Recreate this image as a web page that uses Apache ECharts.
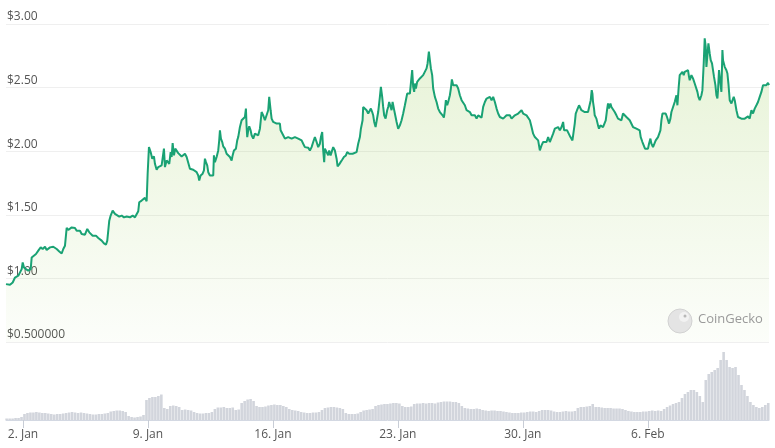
<!DOCTYPE html>
<html>
<head>
<meta charset="utf-8">
<script src="https://cdn.jsdelivr.net/npm/echarts@6/dist/echarts.min.js"></script>
<style>
  html, body { margin: 0; padding: 0; background: #ffffff; }
  #chart { width: 775px; height: 448px; }
</style>
</head>
<body>
<div id="chart"></div>
<script>
// Hours since 1 Jan 00:00 and price in USD
const pricePoints = [
[1.15,0.955],[6.53,0.950],[10.16,0.968],[13.25,1.007],[17.68,1.021],[19.97,1.028],[22.25,1.073],[23.60,1.125],[25.34,1.086],[28.03,1.073],[31.12,1.060],[34.35,1.073],[35.69,1.165],[37.84,1.152],[41.47,1.192],[44.56,1.218],[47.79,1.244],[50.48,1.231],[53.57,1.249],[55.85,1.223],[58.00,1.231],[60.29,1.244],[62.57,1.239],[64.72,1.249],[67.01,1.257],[69.29,1.231],[72.79,1.212],[76.01,1.196],[78.16,1.231],[80.45,1.257],[82.73,1.397],[84.88,1.381],[87.17,1.389],[89.45,1.401],[91.60,1.415],[93.88,1.397],[96.17,1.375],[98.32,1.362],[100.61,1.375],[102.89,1.349],[105.04,1.354],[107.33,1.344],[110.42,1.389],[113.11,1.362],[114.99,1.370],[117.68,1.336],[119.42,1.349],[122.11,1.336],[125.20,1.318],[127.49,1.310],[129.77,1.297],[132.86,1.275],[135.55,1.265],[137.30,1.297],[139.99,1.454],[141.87,1.494],[144.56,1.533],[147.65,1.507],[149.93,1.502],[153.43,1.486],[156.65,1.494],[159.74,1.480],[163.37,1.486],[167.81,1.480],[171.44,1.494],[174.53,1.480],[176.81,1.494],[178.96,1.528],[180.31,1.599],[183.53,1.612],[185.68,1.604],[187.97,1.633],[190.25,1.607],[191.60,1.823],[193.35,2.032],[195.63,1.993],[197.78,1.941],[200.07,1.959],[201.41,1.901],[203.70,1.854],[205.85,1.875],[208.13,1.888],[210.42,1.888],[212.57,1.901],[213.51,2.020],[214.86,1.875],[217.14,1.927],[219.29,1.933],[220.64,1.901],[222.52,1.993],[223.86,1.954],[225.21,2.064],[226.96,1.967],[228.70,2.020],[230.58,2.006],[232.73,1.985],[235.02,1.993],[237.30,1.959],[239.45,1.967],[241.74,1.980],[244.02,1.954],[246.17,1.959],
[248.45,1.862],[250.74,1.875],[252.89,1.854],[255.17,1.862],[257.46,1.835],[259.61,1.809],[260.95,1.770],[262.83,1.809],[265.52,1.823],[267.27,1.849],[268.61,1.941],[269.96,1.914],[271.70,1.888],[273.05,1.835],[275.33,1.809],[277.62,1.801],[279.77,1.809],[280.71,1.967],[282.05,1.914],[284.34,1.954],[286.49,2.006],[287.83,2.085],[288.78,2.164],[290.12,2.099],[291.87,2.072],[293.21,2.038],[295.50,2.020],[297.78,1.980],[299.93,1.967],[302.22,1.954],[304.50,1.927],[305.85,1.967],[307.60,2.006],[310.29,2.020],[312.03,2.085],[313.38,2.111],[315.66,2.190],[317.95,2.243],[320.10,2.230],[322.38,2.269],[323.73,2.335],[324.67,2.190],[325.48,2.111],[326.82,2.164],[328.17,2.196],[330.05,2.164],[331.39,2.125],[333.54,2.099],[335.82,2.138],[338.11,2.151],[340.26,2.125],[342.54,2.177],[344.83,2.308],[346.98,2.282],[349.26,2.243],[351.55,2.230],[353.70,2.322],[355.04,2.427],[356.93,2.322],[358.27,2.256],[360.42,2.230],[362.70,2.217],[364.99,2.217],[367.14,2.203],[369.42,2.217],[370.36,2.164],[371.71,2.164],[373.86,2.125],[376.14,2.099],[378.43,2.111],[380.58,2.111],[382.86,2.125],[385.15,2.099],[387.30,2.091],[389.58,2.111],[391.87,2.125],[394.02,2.099],[396.30,2.085],[398.59,2.085],[400.74,2.059],[403.02,2.032],[405.31,2.038],[407.46,2.028],[409.74,2.006],[412.03,2.032],[414.18,2.072],[416.46,2.111],[418.75,2.072],[420.90,2.032],[423.18,2.059],[424.53,2.111],[426.27,2.151],[427.62,2.006],[428.96,1.914],[429.91,2.020],[432.19,2.006],[434.34,1.967],[435.69,2.006],[437.57,1.967],[438.91,1.980],[441.06,2.032],[443.35,2.006],[445.63,1.941],[446.98,1.880],[449.13,1.896],[451.01,1.914],[453.16,1.933],[455.45,1.954],[458.14,1.967],[459.88,1.993],[462.57,1.980],[464.85,1.993],[467.14,1.980],[469.29,1.980],[472.52,1.993],[474.67,2.059],[476.95,2.111],[478.30,2.177],[480.58,2.243],[481.39,2.348],[483.67,2.335],[485.96,2.322],[488.11,2.296],[490.39,2.282],[491.74,2.335],[493.49,2.308],[494.83,2.282],[496.18,2.230],[498.06,2.190],[500.21,2.203],[501.55,2.308],[503.84,2.427],[505.18,2.506],[506.93,2.427],
[508.27,2.348],[509.62,2.282],[511.50,2.256],[513.65,2.322],[514.99,2.348],[516.34,2.387],[518.22,2.375],[519.56,2.322],[520.91,2.387],[522.66,2.335],[524.00,2.296],[526.29,2.230],[528.44,2.177],[530.72,2.203],[533.01,2.243],[535.16,2.296],[537.44,2.361],[538.79,2.401],[540.53,2.453],[541.88,2.466],[544.16,2.453],[545.51,2.466],[547.26,2.637],[548.60,2.506],[549.95,2.466],[550.89,2.532],[552.23,2.493],[553.98,2.545],[555.32,2.532],[557.61,2.572],[559.89,2.584],[562.04,2.598],[564.33,2.611],[566.61,2.651],[567.96,2.690],[569.71,2.782],[571.05,2.716],[572.40,2.651],[574.14,2.598],[575.49,2.493],[577.78,2.427],[580.06,2.387],[582.21,2.335],[584.50,2.308],[586.78,2.322],[588.13,2.282],[589.88,2.264],[591.22,2.322],[592.56,2.401],[594.31,2.361],[595.66,2.387],[597.94,2.440],[599.29,2.493],[600.63,2.564],[602.38,2.519],[604.66,2.506],[606.95,2.519],[609.10,2.493],[611.38,2.440],[613.67,2.401],[615.82,2.401],[618.10,2.361],[620.39,2.322],[622.54,2.322],[624.82,2.308],[627.11,2.282],[629.26,2.269],[631.54,2.282],[633.83,2.256],[635.98,2.282],[638.26,2.282],[640.55,2.264],[642.70,2.348],[644.98,2.387],[647.27,2.414],[649.42,2.401],[651.70,2.427],[653.99,2.401],[656.14,2.427],[658.42,2.387],[660.71,2.335],[662.86,2.296],[665.14,2.269],[667.43,2.282],[669.58,2.256],[671.86,2.243],[674.15,2.282],[676.30,2.274],[678.58,2.282],[680.87,2.256],[683.02,2.256],[685.30,2.282],[687.59,2.274],[689.74,2.296],[692.02,2.282],[694.31,2.322],[696.46,2.296],[698.74,2.308],[701.03,2.282],[703.18,2.269],[705.46,2.243],[707.75,2.190],[709.90,2.138],[712.18,2.111],[714.47,2.117],[716.62,2.085],[718.90,2.006],[721.19,2.046],[723.34,2.072],[725.62,2.085],[727.91,2.072],[730.06,2.111],[732.34,2.072],[734.63,2.085],[736.78,2.138],[739.06,2.177],[741.35,2.177],[743.50,2.190],[745.78,2.164],[748.07,2.190],[750.22,2.230],[751.56,2.164],[753.85,2.151],[755.59,2.164],[757.88,2.151],
[760.03,2.111],[762.72,2.085],[764.87,2.085],[765.81,2.217],[767.15,2.296],[768.90,2.322],[771.59,2.361],[773.47,2.348],[774.81,2.322],[776.96,2.308],[779.25,2.308],[781.53,2.300],[783.68,2.308],[785.97,2.322],[787.31,2.401],[788.66,2.480],[789.60,2.453],[790.40,2.387],[791.75,2.335],[792.69,2.282],[794.97,2.256],[797.12,2.203],[798.47,2.177],[800.35,2.203],[801.70,2.190],[803.85,2.190],[806.13,2.177],[807.48,2.243],[809.22,2.322],[810.57,2.375],[811.91,2.335],[813.80,2.375],[815.14,2.348],[817.29,2.335],[819.58,2.308],[821.86,2.282],[824.01,2.256],[826.30,2.269],[828.58,2.243],[830.73,2.296],[833.02,2.282],[835.30,2.269],[837.45,2.256],[839.74,2.243],[842.02,2.230],[844.17,2.190],[846.46,2.190],[848.74,2.177],[850.89,2.190],[853.18,2.164],[854.52,2.111],[856.81,2.072],[858.56,2.046],[860.30,2.020],[862.18,2.032],[864.33,2.020],[865.68,2.059],[867.56,2.099],[868.91,2.059],[871.06,2.032],[873.34,2.046],[874.69,2.085],[876.44,2.072],[877.78,2.111],[879.13,2.099],[881.01,2.164],[882.35,2.243],[883.70,2.296],[885.85,2.282],[888.13,2.296],[889.88,2.269],[891.22,2.243],[892.57,2.217],[894.45,2.256],[895.80,2.308],[897.95,2.322],[900.23,2.387],[902.52,2.440],[903.86,2.361],[905.61,2.506],[906.95,2.598],[909.24,2.584],[910.58,2.624],[912.33,2.598],[913.68,2.624],[915.96,2.616],[918.11,2.637],[919.46,2.584],[920.40,2.558],[922.68,2.598],[924.83,2.572],[927.12,2.532],[929.40,2.519],[930.75,2.466],[932.09,2.427],[933.84,2.401],[936.13,2.440],[937.47,2.480],[939.22,2.690],[940.56,2.887],[941.91,2.821],[942.85,2.663],[944.19,2.756],[945.54,2.848],[947.29,2.769],[948.63,2.716],[950.38,2.690],[951.72,2.637],[953.07,2.584],[954.95,2.519],[956.30,2.440],[957.64,2.414],[958.45,2.480],[959.79,2.637],[961.68,2.624],[963.02,2.466],[964.37,2.795],[965.17,2.716],[967.46,2.663],[968.80,2.677],[969.74,2.637],[971.09,2.611],[972.43,2.532],[974.18,2.401],[976.47,2.375],[977.81,2.361],[979.56,2.427],[980.90,2.401],[983.19,2.322],[985.34,2.269],[987.62,2.256],[989.91,2.256],[992.06,2.264],[994.34,2.256],[996.63,2.264],[998.78,2.274],[1001.06,2.256],[1003.35,2.322],[1005.50,2.296],[1007.78,2.335],[1010.07,2.361],[1012.22,2.387],[1014.50,2.427],[1016.79,2.466],[1018.94,2.519],[1021.22,2.532],[1023.51,2.519],[1025.66,2.537],[1027.00,2.519]
];

// Trading volume (millions USD), one bar every 4 hours starting at hour 2
const volumeStartHour = 2;
const volumeStepHours = 4;
const volumeValues = [
1.5,1.5,1.5,2,2,3,
6,7,7.5,7.5,8,7.5,7,7,
6.5,6,5.5,6,6,6.5,7,
7.5,8,7.5,7,7.5,7,6.5,
6,5.5,5.5,6,6,6.5,7,
8.5,9,9.5,9.5,9,8,
4,3,2.5,3,3.5,
5,20,
22,23,23,24,25.5,
12,11,
14,14.5,14,13,
10,10.5,10,9.5,
8,7,6.5,6.5,7,7,8,
11,12.5,12.5,13,12,12,12.5,
10,10.5,
17,19,20.5,21,19,
14,13,13,13.5,
14.5,15,15.5,15,15,14,13,
11,10,9.5,9,
8,7.5,7,7,7.5,7.5,8,
10,12,12.5,13,13,12.5,12,11,
7,6,6,6,6.5,
8,9.5,10,10.5,11,
14,15,15.5,16,16,16.5,17,17,16.5,
14,13,13,13.5,
16,16.5,16.5,17,16.5,17,17,16.5,
17.5,18,18.5,18.5,18.5,18,18,17,
14,12,11.5,11,11,11.5,11,
10,9.5,9,9.5,9.5,9,9,8.5,8,
7.5,7,7,7,7.5,7.5,8,8.5,8.5,8,
9,10,10,10,9.5,
8.5,8,8,8.5,9,8.5,8.5,9,
12,13,13,13.5,14,16,13,
13,12.5,12,12,12,11.5,11.5,11.5,11,10,
9,8.5,8,8,8,8.5,8.5,
9,9.5,9,9.5,9,
11,13,14.5,16,17,18,
22,26,28,30,30,28,
24,18,
40,46,48,50,52,
60,68,
60,53,52,53,45,35,30,
24,18,15,13,12,13,15,17
];

// Axis ticks
const xTickHours = [24, 192, 360, 528, 696, 864];
const xTickLabels = ['2. Jan', '9. Jan', '16. Jan', '23. Jan', '30. Jan', '6. Feb'];
const yTickValues = [0.5, 1.0, 1.5, 2.0, 2.5, 3.0];
const yTickLabels = ['$0.500000', '$1.00', '$1.50', '$2.00', '$2.50', '$3.00'];

const volumeData = volumeValues.map((v, i) => [volumeStartHour + i * volumeStepHours, v]);

const X_MIN = pricePoints[0][0];
const X_MAX = pricePoints[pricePoints.length - 1][0];
const FONT = '"Open Sans", "Noto Sans", sans-serif';

const chart = echarts.init(document.getElementById('chart'), null, { renderer: 'canvas' });

chart.setOption({
  animation: false,
  backgroundColor: '#ffffff',
  grid: [
    { left: 6, right: 6, top: 24, height: 318 },
    { left: 6, right: 6, top: 345, height: 75 }
  ],
  xAxis: [
    { type: 'value', gridIndex: 0, min: X_MIN, max: X_MAX, show: false },
    {
      type: 'value', gridIndex: 1, min: X_MIN, max: X_MAX,
      axisLine: { show: true, lineStyle: { color: '#d3d8e2', width: 1 } },
      axisTick: { show: true, length: 8, customValues: xTickHours, lineStyle: { color: '#c8cdd6' } },
      axisLabel: {
        customValues: xTickHours,
        margin: 9,
        color: '#555555',
        fontFamily: FONT,
        fontSize: 12,
        formatter: (v) => {
          const i = xTickHours.indexOf(v);
          return i >= 0 ? xTickLabels[i] : '';
        }
      },
      splitLine: { show: false }
    }
  ],
  yAxis: [
    {
      type: 'value', gridIndex: 0, min: 0.5, max: 3.0, interval: 0.5,
      axisLine: { show: false },
      axisTick: { show: false },
      splitLine: { show: true, lineStyle: { color: '#efefef', width: 1 } },
      axisLabel: {
        inside: true,
        margin: 1,
        verticalAlign: 'bottom',
        padding: [0, 0, 1, 0],
        color: '#555555',
        fontFamily: FONT,
        fontSize: 12,
        formatter: (v) => {
          const i = yTickValues.findIndex(t => Math.abs(t - v) < 1e-6);
          return i >= 0 ? yTickLabels[i] : '';
        }
      }
    },
    { type: 'value', gridIndex: 1, min: 0, max: 75, show: false, splitLine: { show: false } }
  ],
  series: [
    {
      type: 'line',
      xAxisIndex: 0, yAxisIndex: 0,
      data: pricePoints,
      showSymbol: false,
      smooth: false,
      lineStyle: { color: '#1aa274', width: 2 },
      itemStyle: { color: '#1aa274' },
      areaStyle: {
        color: new echarts.graphic.LinearGradient(0, 0, 0, 1, [
          { offset: 0, color: 'rgba(141,198,63,0.30)' },
          { offset: 1, color: 'rgba(141,198,63,0.04)' }
        ])
      },
      z: 3
    },
    {
      type: 'bar',
      xAxisIndex: 1, yAxisIndex: 1,
      data: volumeData,
      barWidth: 2.6,
      itemStyle: { color: '#d2d5dc' },
      z: 2
    }
  ],
  graphic: [
    {
      type: 'circle',
      shape: { cx: 680, cy: 321, r: 12 },
      style: { fill: '#e4e4e4', stroke: '#d2d2d2', lineWidth: 1 },
      z: 10
    },
    {
      type: 'circle',
      shape: { cx: 684, cy: 317, r: 5 },
      style: { fill: '#f2f2f2' },
      z: 11
    },
    {
      type: 'circle',
      shape: { cx: 685, cy: 316, r: 1.5 },
      style: { fill: '#b8b8b8' },
      z: 12
    },
    {
      type: 'text',
      left: 698,
      top: 313,
      style: { text: 'CoinGecko', fill: '#9a9a9a', font: '13px ' + FONT },
      z: 10
    }
  ]
});
</script>
</body>
</html>
